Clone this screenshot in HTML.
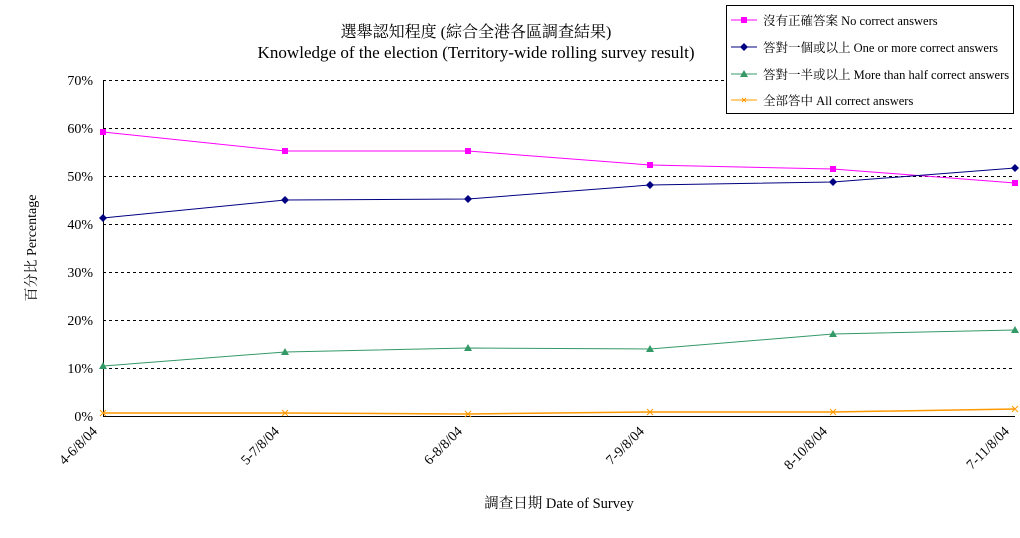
<!DOCTYPE html><html><head><meta charset="utf-8"><style>body{margin:0;background:#fff}svg text{font-family:"Liberation Serif","Noto Serif CJK SC",serif;fill:#000}</style></head><body>
<svg width="1020" height="533" xmlns="http://www.w3.org/2000/svg">
<text x="476" y="37" font-size="16" text-anchor="middle">選舉認知程度 (綜合全港各區調查結果)</text>
<text x="476" y="58" font-size="16.5" text-anchor="middle" textLength="437" lengthAdjust="spacingAndGlyphs">Knowledge of the election (Territory-wide rolling survey result)</text>
<g stroke="#000" stroke-dasharray="3,3" stroke-width="1">
<line x1="103" x2="1015" y1="80.5" y2="80.5"/><line x1="103" x2="1015" y1="128.5" y2="128.5"/><line x1="103" x2="1015" y1="176.5" y2="176.5"/><line x1="103" x2="1015" y1="224.5" y2="224.5"/><line x1="103" x2="1015" y1="272.5" y2="272.5"/><line x1="103" x2="1015" y1="320.5" y2="320.5"/><line x1="103" x2="1015" y1="368.5" y2="368.5"/>
</g>
<path d="M103.5 80V416.5H1015" stroke="#000" fill="none"/>
<g font-size="14" text-anchor="end">
<text x="93" y="85">70%</text><text x="93" y="133">60%</text><text x="93" y="181">50%</text><text x="93" y="229">40%</text><text x="93" y="277">30%</text><text x="93" y="325">20%</text><text x="93" y="373">10%</text><text x="93" y="421">0%</text>
</g>
<g font-size="14" text-anchor="end">
<text transform="translate(98,432) rotate(-45)">4-6/8/04</text>
<text transform="translate(280,432) rotate(-45)">5-7/8/04</text>
<text transform="translate(463,432) rotate(-45)">6-8/8/04</text>
<text transform="translate(645,432) rotate(-45)">7-9/8/04</text>
<text transform="translate(828,432) rotate(-45)">8-10/8/04</text>
<text transform="translate(1010,432) rotate(-45)">7-11/8/04</text>
</g>
<text x="559" y="508" font-size="14.5" text-anchor="middle">調查日期 Date of Survey</text>
<text transform="translate(36,248) rotate(-90)" font-size="14" text-anchor="middle">百分比 Percentage</text>
<polyline fill="none" stroke="#f0f" points="103,132 285,151 468,151 650,165 833,169 1015,183"/>
<g fill="#f0f"><rect x="100" y="129" width="6" height="6"/><rect x="282" y="148" width="6" height="6"/><rect x="465" y="148" width="6" height="6"/><rect x="647" y="162" width="6" height="6"/><rect x="830" y="166" width="6" height="6"/><rect x="1012" y="180" width="6" height="6"/></g>
<polyline fill="none" stroke="#000080" points="103,218 285,200 468,199 650,185 833,182 1015,168"/>
<g fill="#000080"><path d="M103 214l4 4-4 4-4-4z"/><path d="M285 196l4 4-4 4-4-4z"/><path d="M468 195l4 4-4 4-4-4z"/><path d="M650 181l4 4-4 4-4-4z"/><path d="M833 178l4 4-4 4-4-4z"/><path d="M1015 164l4 4-4 4-4-4z"/></g>
<polyline fill="none" stroke="#339966" points="103,366 285,352 468,348 650,349 833,334 1015,330"/>
<g fill="#339966"><path d="M103 362l4 7h-8z"/><path d="M285 348l4 7h-8z"/><path d="M468 344l4 7h-8z"/><path d="M650 345l4 7h-8z"/><path d="M833 330l4 7h-8z"/><path d="M1015 326l4 7h-8z"/></g>
<polyline fill="none" stroke="#f90" stroke-width="1.5" points="103,413 285,413 468,414 650,412 833,412 1015,409"/>
<g stroke="#f90"><path d="M100 410l6 6M106 410l-6 6M282 410l6 6M288 410l-6 6M465 411l6 6M471 411l-6 6M647 409l6 6M653 409l-6 6M830 409l6 6M836 409l-6 6M1012 406l6 6M1018 406l-6 6"/></g>
<rect x="726.5" y="5.5" width="287" height="108" fill="#fff" stroke="#000"/>
<g font-size="12.5">
<line x1="731" x2="757" y1="20" y2="20" stroke="#f0f"/><rect x="741" y="17" width="6" height="6" fill="#f0f"/>
<text x="763" y="25">沒有正確答案 No correct answers</text>
<line x1="731" x2="757" y1="47" y2="47" stroke="#000080"/><path d="M744 43l4 4-4 4-4-4z" fill="#000080"/>
<text x="763" y="52">答對一個或以上 One or more correct answers</text>
<line x1="731" x2="757" y1="74" y2="74" stroke="#339966"/><path d="M744 70l4 7h-8z" fill="#339966"/>
<text x="763" y="79">答對一半或以上 More than half correct answers</text>
<line x1="731" x2="757" y1="100" y2="100" stroke="#f90"/><path d="M742 98l4 4M746 98l-4 4" stroke="#f90"/>
<text x="763" y="105">全部答中 All correct answers</text>
</g>
</svg></body></html>
